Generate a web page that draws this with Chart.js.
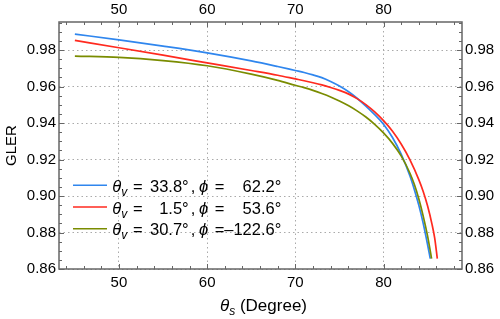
<!DOCTYPE html>
<html>
<head>
<meta charset="utf-8">
<script src="https://cdn.jsdelivr.net/npm/chart.js@4.4.0/dist/chart.umd.min.js"></script>
<style>
  html, body { margin: 0; padding: 0; background: #fff; }
  #wrap { width: 500px; height: 319px; }
</style>
</head>
<body>
<div id="wrap"><canvas id="glerChart" width="500" height="319"></canvas></div>
<script>
// theta_s (degree) and GLER
var blueX = [45, 50, 55, 60, 65, 68, 70, 71, 72, 73, 74, 75, 76, 77, 78, 79, 80, 81, 82, 83, 83.5, 84, 84.5, 85, 85.3];
var blueY = [0.9888, 0.9856, 0.9822, 0.9785, 0.9741, 0.9710, 0.9688, 0.9677, 0.9664, 0.9649, 0.9628, 0.9603, 0.9573, 0.9536, 0.9493, 0.9446, 0.9394, 0.9322, 0.9230, 0.9110, 0.9035, 0.8950, 0.8850, 0.8733, 0.8657];

var redX = [45, 50, 55, 60, 65, 68, 70, 71, 72, 73, 74, 75, 76, 77, 78, 79, 80, 81, 82, 83, 84, 84.5, 85, 85.5, 85.8, 86.1];
var redY = [0.9853, 0.9813, 0.9772, 0.9730, 0.9688, 0.9662, 0.9642, 0.9632, 0.9621, 0.9609, 0.9595, 0.9579, 0.9560, 0.9534, 0.9501, 0.9461, 0.9413, 0.9356, 0.9285, 0.9198, 0.9090, 0.9025, 0.8945, 0.8845, 0.8770, 0.8657];

var greenX = [45, 50, 55, 60, 65, 68, 70, 71, 72, 73, 74, 75, 76, 77, 78, 79, 80, 81, 82, 83, 83.5, 84, 84.5, 85, 85.45];
var greenY = [0.9767, 0.9760, 0.9742, 0.9714, 0.9668, 0.9634, 0.9607, 0.9594, 0.9579, 0.9562, 0.9543, 0.9521, 0.9496, 0.9467, 0.9433, 0.9393, 0.9346, 0.9290, 0.9220, 0.9125, 0.9063, 0.8985, 0.8890, 0.8780, 0.8657];

// legend values
var thetaV = [33.8, 1.5, 30.7];
var phiV = [62.2, 53.6, -122.6];
var colors = ["#2f86ee", "#ff2a1f", "#7a8c00"];

// axis ticks
var xTicks = [50, 60, 70, 80];
var yTicks = [0.86, 0.88, 0.90, 0.92, 0.94, 0.96, 0.98];

var FONT = '"Liberation Sans", Arial, sans-serif';

function toPoints(xs, ys) {
  return xs.map(function (x, i) {
    return { x: x, y: ys[i] };
  });
}

function fmtDeg(v) {
  return v.toFixed(1).replace("-", "\u2013") + "\u00b0";
}

function drawParts(ctx, parts, x, y) {
  parts.forEach(function (p) {
    ctx.font = p.font;
    ctx.fillText(p.t, x, y + (p.dy || 0));
    x += ctx.measureText(p.t).width;
  });
  return x;
}

// frame with inward ticks on all four sides
var frameTicks = {
  id: "frameTicks",
  afterDraw: function (chart) {
    var ctx = chart.ctx;
    var a = chart.chartArea;
    var xs = chart.scales.x;
    var ys = chart.scales.y;
    ctx.save();
    ctx.strokeStyle = "#666";
    ctx.lineWidth = 1;
    ctx.beginPath();
    for (var xv = 44; xv <= 88; xv += 2) {
      var px = Math.round(xs.getPixelForValue(xv)) + 0.5;
      var lx = xv % 10 === 0 ? 5 : 3;
      ctx.moveTo(px, a.bottom);
      ctx.lineTo(px, a.bottom - lx);
      ctx.moveTo(px, a.top);
      ctx.lineTo(px, a.top + lx);
    }
    for (var i = 0; i <= 27; i++) {
      var yv = 0.86 + i * 0.005;
      var py = Math.round(ys.getPixelForValue(yv)) + 0.5;
      var ly = i % 4 === 0 ? 5 : 3;
      ctx.moveTo(a.left, py);
      ctx.lineTo(a.left + ly, py);
      ctx.moveTo(a.right, py);
      ctx.lineTo(a.right - ly, py);
    }
    ctx.stroke();
    ctx.lineWidth = 1.5;
    ctx.strokeRect(a.left, a.top, a.right - a.left, a.bottom - a.top);
    ctx.restore();
  }
};

// legend inside the frame and the x axis title (with subscripts)
var richText = {
  id: "richText",
  afterDraw: function (chart) {
    var ctx = chart.ctx;
    var a = chart.chartArea;
    var big = "16.5px " + FONT;
    ctx.save();
    ctx.fillStyle = "#000";
    ctx.textBaseline = "alphabetic";

    thetaV.forEach(function (tv, i) {
      var ly = a.top + 163.3 + i * 21.7;
      ctx.strokeStyle = colors[i];
      ctx.lineWidth = 1.6;
      ctx.beginPath();
      ctx.moveTo(a.left + 14, ly);
      ctx.lineTo(a.left + 48, ly);
      ctx.stroke();

      var base = ly + 6.5;
      var x0 = a.left + 53.3;
      ctx.textAlign = "left";
      drawParts(ctx, [
        { t: "\u03b8", font: "italic " + big },
        { t: "v", font: "italic 12px " + FONT, dy: 4 }
      ], x0, base);
      ctx.font = big;
      ctx.fillText("=", x0 + 20.7, base);
      ctx.textAlign = "right";
      ctx.fillText(fmtDeg(tv), x0 + 76.4, base);
      ctx.textAlign = "left";
      ctx.fillText(",", x0 + 78.5, base);
      ctx.font = "italic " + big;
      ctx.fillText("\u03d5", x0 + 86.7, base);
      ctx.font = big;
      ctx.fillText("=", x0 + 102.4, base);
      ctx.textAlign = "right";
      ctx.fillText(fmtDeg(phiV[i]), x0 + 169, base);
    });

    // x axis title
    ctx.textAlign = "left";
    var parts = [
      { t: "\u03b8", font: "italic 17px " + FONT },
      { t: "s", font: "italic 12px " + FONT, dy: 4 },
      { t: " (Degree)", font: "17px " + FONT }
    ];
    var w = 0;
    parts.forEach(function (p) {
      ctx.font = p.font;
      w += ctx.measureText(p.t).width;
    });
    drawParts(ctx, parts, (a.left + a.right) / 2 + 3 - w / 2, 311);
    ctx.restore();
  }
};

function fixTicks(list) {
  return function (scale) {
    scale.ticks = list.map(function (v) {
      return { value: v };
    });
  };
}

var tickFont = { family: FONT, size: 15 };

var config = {
  type: "scatter",
  data: {
    datasets: [
      { data: toPoints(blueX, blueY), borderColor: colors[0], order: 3 },
      { data: toPoints(redX, redY), borderColor: colors[1], order: 2 },
      { data: toPoints(greenX, greenY), borderColor: colors[2], order: 1 }
    ]
  },
  options: {
    responsive: false,
    animation: false,
    layout: { padding: 0 },
    datasets: {
      scatter: {
        showLine: true,
        pointRadius: 0,
        borderWidth: 1.7,
        cubicInterpolationMode: "monotone",
        fill: false
      }
    },
    plugins: {
      legend: { display: false },
      tooltip: { enabled: false }
    },
    scales: {
      x: {
        type: "linear",
        position: "bottom",
        min: 43.2,
        max: 88.9,
        afterBuildTicks: fixTicks(xTicks),
        afterFit: function (scale) { scale.height = 50; },
        ticks: { font: tickFont, color: "#000", padding: 5, autoSkip: false, maxRotation: 0 },
        grid: { color: "#aaa", lineWidth: 1, drawTicks: false },
        border: { display: false, dash: [1.5, 3] }
      },
      x2: {
        type: "linear",
        position: "top",
        min: 43.2,
        max: 88.9,
        afterBuildTicks: fixTicks(xTicks),
        afterFit: function (scale) { scale.height = 22; },
        ticks: { font: tickFont, color: "#000", padding: 3, autoSkip: false, maxRotation: 0 },
        grid: { display: false, drawTicks: false },
        border: { display: false }
      },
      y: {
        type: "linear",
        position: "left",
        min: 0.86,
        max: 0.9954,
        afterBuildTicks: fixTicks(yTicks),
        afterFit: function (scale) { scale.width = 59; },
        ticks: {
          font: tickFont,
          color: "#000",
          padding: 3,
          autoSkip: false,
          callback: function (v) { return v.toFixed(2); }
        },
        title: {
          display: true,
          text: "GLER",
          color: "#000",
          font: { family: FONT, size: 15 },
          padding: { top: 3, bottom: 0 }
        },
        grid: { color: "#aaa", lineWidth: 1, drawTicks: false },
        border: { display: false, dash: [1.5, 3] }
      },
      y2: {
        type: "linear",
        position: "right",
        min: 0.86,
        max: 0.9954,
        afterBuildTicks: fixTicks(yTicks),
        afterFit: function (scale) { scale.width = 38; },
        ticks: {
          font: tickFont,
          color: "#000",
          padding: 3,
          autoSkip: false,
          callback: function (v) { return v.toFixed(2); }
        },
        grid: { display: false, drawTicks: false },
        border: { display: false }
      }
    }
  },
  plugins: [frameTicks, richText]
};

document.addEventListener("DOMContentLoaded", function () {
  new Chart(document.getElementById("glerChart"), config);
});
</script>
</body>
</html>
